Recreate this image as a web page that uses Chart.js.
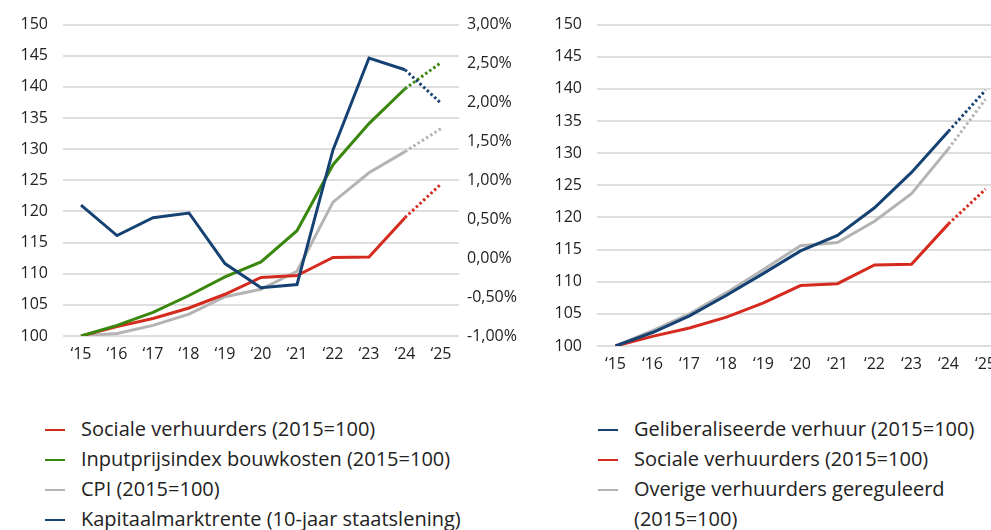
<!DOCTYPE html>
<html lang="nl">
<head>
    <meta charset="UTF-8">
    <title>Huurontwikkeling</title>
    <script src="https://cdn.jsdelivr.net/npm/chart.js"></script>
    <style>
        body {
            margin: 0;
            width: 991px;
            height: 530px;
            overflow: hidden;
            background: #fff;
            font-family: "Open Sans", sans-serif;
            color: #222;
            position: relative;
        }
        .chart-box { position: absolute; top: 0; }
        #left-box { left: 0; width: 522px; height: 370px; }
        #right-box { left: 530px; width: 474px; height: 380px; }
        .legend {
            position: absolute;
            top: 414px;
            font-size: 20px;
            line-height: 30px;
        }
        #left-legend { left: 45px; }
        #right-legend { left: 598px; width: 393px; }
        .legend-item { position: relative; padding-left: 36px; }
        .legend-item span {
            position: absolute;
            left: 0;
            top: 15px;
            width: 20px;
            height: 2px;
        }
    </style>
</head>
<body>
    <div class="chart-box" id="left-box"><canvas id="leftChart"></canvas></div>
    <div class="chart-box" id="right-box"><canvas id="rightChart"></canvas></div>
    <div class="legend" id="left-legend"></div>
    <div class="legend" id="right-legend"></div>

    <script>
        // Data
        const years = ['‘15', '‘16', '‘17', '‘18', '‘19', '‘20', '‘21', '‘22', '‘23', '‘24', '‘25'];
        const socialeVerhuurders = [100, 101.5, 102.8, 104.5, 106.7, 109.4, 109.7, 112.6, 112.7, 119.0, 124.4];
        const bouwkosten = [100, 101.7, 103.8, 106.5, 109.5, 111.9, 116.9, 127.5, 134.1, 139.7, 143.9];
        const cpi = [100, 100.4, 101.7, 103.5, 106.3, 107.5, 110.4, 121.5, 126.2, 129.6, 133.3];
        const kapitaalmarktrente = [0.68, 0.29, 0.52, 0.58, -0.07, -0.38, -0.34, 1.39, 2.57, 2.42, 1.99];
        const geliberaliseerd = [100, 102.1, 104.7, 107.9, 111.3, 114.8, 117.2, 121.5, 127.0, 133.4, 139.8];
        const overigGereguleerd = [100, 102.4, 105.0, 108.3, 111.9, 115.6, 116.1, 119.4, 123.7, 130.7, 138.4];

        const RED = '#d52b1e', GREEN = '#39870c', GREY = '#b4b4b4', BLUE = '#154273';
        const FONT = { family: '"Open Sans", sans-serif', size: 16 };

        // last segment ('24 -> '25) is a forecast, drawn dotted
        function line(label, data, color, axis) {
            return {
                label: label,
                data: data,
                borderColor: color,
                backgroundColor: color,
                borderWidth: 3,
                pointRadius: 0,
                tension: 0,
                yAxisID: axis || 'y',
                segment: {
                    borderDash: ctx => ctx.p1DataIndex === data.length - 1 ? [2.5, 2.5] : undefined
                }
            };
        }

        const gridOpts = { color: '#dedede', lineWidth: 2, drawTicks: false };

        function xAxis(h) {
            return {
                offset: true,
                grid: { display: false },
                border: { display: false },
                ticks: { color: '#222', font: FONT, padding: 1, maxRotation: 0, autoSkip: false },
                afterFit: s => { s.height = h; }
            };
        }

        function yAxis(w) {
            return {
                min: 100, max: 150,
                grid: gridOpts,
                border: { display: false },
                ticks: { stepSize: 5, color: '#222', font: FONT, padding: 15 },
                afterFit: s => { s.width = w; }
            };
        }

        const leftDatasets = [
            line('Sociale verhuurders (2015=100)', socialeVerhuurders, RED),
            line('Inputprijsindex bouwkosten (2015=100)', bouwkosten, GREEN),
            line('CPI (2015=100)', cpi, GREY),
            line('Kapitaalmarktrente (10-jaar staatslening)', kapitaalmarktrente, BLUE, 'y2')
        ];
        // draw order: blue on top, grey at the back
        leftDatasets[3].order = 0; leftDatasets[1].order = 1; leftDatasets[0].order = 2; leftDatasets[2].order = 3;

        new Chart(document.getElementById('leftChart'), {
            type: 'line',
            data: { labels: years, datasets: leftDatasets },
            options: {
                responsive: true,
                maintainAspectRatio: false,
                animation: false,
                layout: { padding: { top: 23, left: 0, right: 0, bottom: 0 } },
                plugins: { legend: { display: false }, tooltip: { enabled: false } },
                scales: {
                    x: xAxis(34),
                    y: yAxis(63),
                    y2: {
                        position: 'right',
                        min: -1, max: 3,
                        grid: { display: false },
                        border: { display: false },
                        ticks: {
                            stepSize: 0.5,
                            color: '#222',
                            font: FONT,
                            padding: 0,
                            callback: v => v.toFixed(2).replace('.', ',') + '%'
                        },
                        afterFit: s => { s.width = 63; }
                    }
                }
            }
        });

        const rightDatasets = [
            line('Geliberaliseerde verhuur (2015=100)', geliberaliseerd, BLUE),
            line('Sociale verhuurders (2015=100)', socialeVerhuurders, RED),
            line('Overige verhuurders gereguleerd (2015=100)', overigGereguleerd, GREY)
        ];

        new Chart(document.getElementById('rightChart'), {
            type: 'line',
            data: { labels: years, datasets: rightDatasets },
            options: {
                responsive: true,
                maintainAspectRatio: false,
                animation: false,
                layout: { padding: { top: 19, left: 0, right: 0, bottom: 0 } },
                plugins: { legend: { display: false }, tooltip: { enabled: false } },
                scales: {
                    x: xAxis(34),
                    y: yAxis(67)
                }
            }
        });

        // Legends
        function buildLegend(id, datasets) {
            const box = document.getElementById(id);
            datasets.forEach(ds => {
                const item = document.createElement('div');
                item.className = 'legend-item';
                item.innerHTML = '<span style="background:' + ds.borderColor + '"></span>' + ds.label;
                box.appendChild(item);
            });
        }
        buildLegend('left-legend', leftDatasets);
        buildLegend('right-legend', rightDatasets);
    </script>
</body>
</html>
